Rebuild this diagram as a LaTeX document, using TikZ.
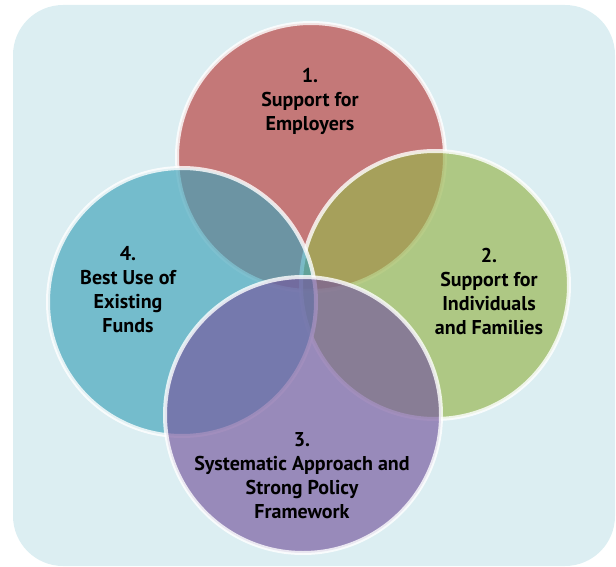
\documentclass[tikz,border=0pt]{standalone}
\usepackage{fontspec}
\setmainfont{PT Sans}
\usepackage{tikz}
\usetikzlibrary{positioning}
\definecolor{panelcolor}{RGB}{220, 238, 242}
\definecolor{employercolor}{RGB}{184, 61, 59}
\definecolor{familycolor}{RGB}{151, 181, 77}
\definecolor{fundscolor}{RGB}{64, 163, 185}
\definecolor{policycolor}{RGB}{118, 88, 158}

\tikzset{
    ring/.style={circle, draw=white, line width=4pt, draw opacity=0.8, fill opacity=0.667, minimum size=268pt, inner sep=0pt},
    areatext/.style={align=center, font=\fontsize{20}{24}\selectfont\bfseries, text=black}
}

\begin{document}
\begin{tikzpicture}[x=1pt, y=-1pt]
    \useasboundingbox (0, 0) rectangle (616, 567);

    % Panel
    \fill[panelcolor, rounded corners=50pt] (13, 5) rectangle (615, 566);

    % Circles
    \node[ring, fill=employercolor] (employers) at (311, 157) {};
    \node[ring, fill=familycolor] (families) at (435, 285) {};
    \node[ring, fill=fundscolor] (funds) at (182, 302) {};
    \node[ring, fill=policycolor, minimum size=276pt] (policy) at (303, 415) {};

    % Labels
    \node[areatext] (employers-label) at (310, 101) {1.\\Support for\\Employers};
    \node[areatext] (families-label) at (489, 291) {2.\\Support for\\Individuals\\and Families};
    \node[areatext] (funds-label) at (128, 290) {4.\\Best Use of\\Existing\\Funds};
    \node[areatext] (policy-label) at (302, 476) {3.\\Systematic Approach and\\Strong Policy\\Framework};

\end{tikzpicture}
\end{document}
